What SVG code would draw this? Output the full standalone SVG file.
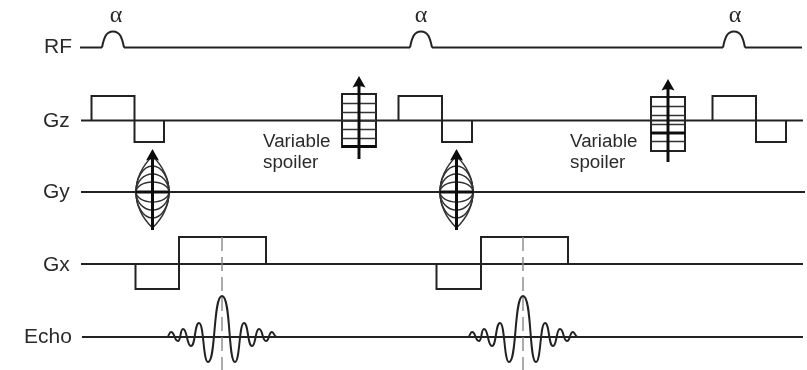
<svg xmlns="http://www.w3.org/2000/svg" width="807" height="370" viewBox="0 0 807 370">
<style>
.l{fill:none;stroke:#222;stroke-width:2}
.n{fill:none;stroke:#333;stroke-width:1.5}
.t{stroke:#111;stroke-width:3;fill:none}
.d{fill:none;stroke:#888;stroke-width:1.4;stroke-dasharray:14 6}
text{font-family:"Liberation Sans",Arial,sans-serif;font-size:21px;fill:#2c2c2c}
.v{font-size:18.8px}
.a{font-family:"Liberation Serif","Times New Roman",serif;font-size:24px;text-anchor:middle}
</style>
<defs>
<filter id="b" x="0" y="0" width="1" height="1"><feGaussianBlur stdDeviation="0.5"/></filter>
<path id="pulse" d="M0 0C2 -10 4 -16 11 -16C18 -16 20 -10 22 0"/>
<path id="ah" d="M0 0L-6.500 11.500Q0 9 6.500 11.500Z" fill="#111"/>
<g id="lens">
<path class="n" d="M-16.500 0C-16.500 -17 -8 -28 0 -36C8 -28 16.500 -17 16.500 0C16.500 17 8 28 0 36C-8 28 -16.500 17 -16.500 0Z"/>
<ellipse class="n" cx="0" cy="0" rx="16.500" ry="26"/>
<ellipse class="n" cx="0" cy="0" rx="16.500" ry="18"/>
<ellipse class="n" cx="0" cy="0" rx="16.500" ry="10"/>
<path class="t" d="M-17 0H17"/>
</g>
<path id="wave" class="l" d="M-55 337C-53 337 -53 332 -51 332C-47 332 -48 341 -44 341C-41 341 -42 329 -39 329C-34.500 329 -35.500 346 -31 346C-26.500 346 -27.500 323 -23 323C-18 323 -19 362 -14 362C-6 362 -9 296 0 296C9 296 6 362 13 362C18 362 17 323 22 323C26.500 323 25.500 346 30 346C34 346 33 329 37 329C41 329 40 341 44 341C47.500 341 46.500 332 50 332C52 332 52 337 55 337"/>
</defs>
<g filter="url(#b)">
<g id="connectors">
<path id="rf-line" class="l" d="M80 47.500H102M124 47.500H410M432 47.500H723M745 47.500H802"/>
<path id="gz-line" class="l" d="M81 120.500H803"/>
<path id="gy-line" class="l" d="M81 192H805"/>
<path id="gx-line" class="l" d="M81 264H803"/>
<path id="echo-line" class="l" d="M82 337H803"/>
</g>
<g id="rf">
<text x="44" y="53">RF</text>
<use href="#pulse" class="l" x="102" y="47.500"/>
<use href="#pulse" class="l" x="410" y="47.500"/>
<use href="#pulse" class="l" x="723" y="47.500"/>
<text class="a" x="116" y="22">α</text>
<text class="a" x="421" y="22">α</text>
<text class="a" x="735" y="22">α</text>
</g>
<g id="gz">
<text x="43" y="127">Gz</text>
<path class="l" d="M91.500 120V96H134.500V142H164V120"/>
<path class="l" d="M398.500 120V96H442V142H472V120"/>
<path class="l" d="M712.500 120V96H756V142H786V120"/>
</g>
<g id="spoiler-1">
<rect x="342" y="94" width="34" height="53" class="l" fill="#fff"/>
<path class="n" d="M342 103.500H376M342 112.500H376M342 121H376M342 129.500H376M342 138.500H376"/>
<path class="t" d="M342 146.500H376"/>
<path class="t" d="M359 85V159"/>
<use href="#ah" x="359" y="76"/>
<text class="v" x="263" y="147">Variable</text>
<text class="v" x="263" y="168">spoiler</text>
</g>
<g id="spoiler-2">
<rect x="651" y="97" width="34" height="54" class="l" fill="#fff"/>
<path class="n" d="M651 106.500H685M651 115.500H685M651 124.500H685M651 141.500H685"/>
<path class="t" d="M651 133H685"/>
<path class="t" d="M668 88V162"/>
<use href="#ah" x="668" y="79"/>
<text class="v" x="570" y="147">Variable</text>
<text class="v" x="570" y="168">spoiler</text>
</g>
<g id="gy">
<text x="43" y="198">Gy</text>
<use href="#lens" x="152.500" y="192"/>
<path class="t" d="M152.500 158V230"/>
<use href="#ah" x="152.500" y="149"/>
<use href="#lens" x="456.500" y="192"/>
<path class="t" d="M456.500 158V230"/>
<use href="#ah" x="456.500" y="149"/>
</g>
<g id="gx">
<text x="43" y="271">Gx</text>
<path class="l" d="M135.500 264V289H179V237H266V264"/>
<path class="l" d="M436.500 264V289H481V237H568V264"/>
<path class="d" d="M222 237V370"/>
<path class="d" d="M523 237V370"/>
</g>
<g id="echo">
<text x="24" y="343">Echo</text>
<use href="#wave" x="222"/>
<use href="#wave" x="523"/>
</g>
</g>
</svg>
